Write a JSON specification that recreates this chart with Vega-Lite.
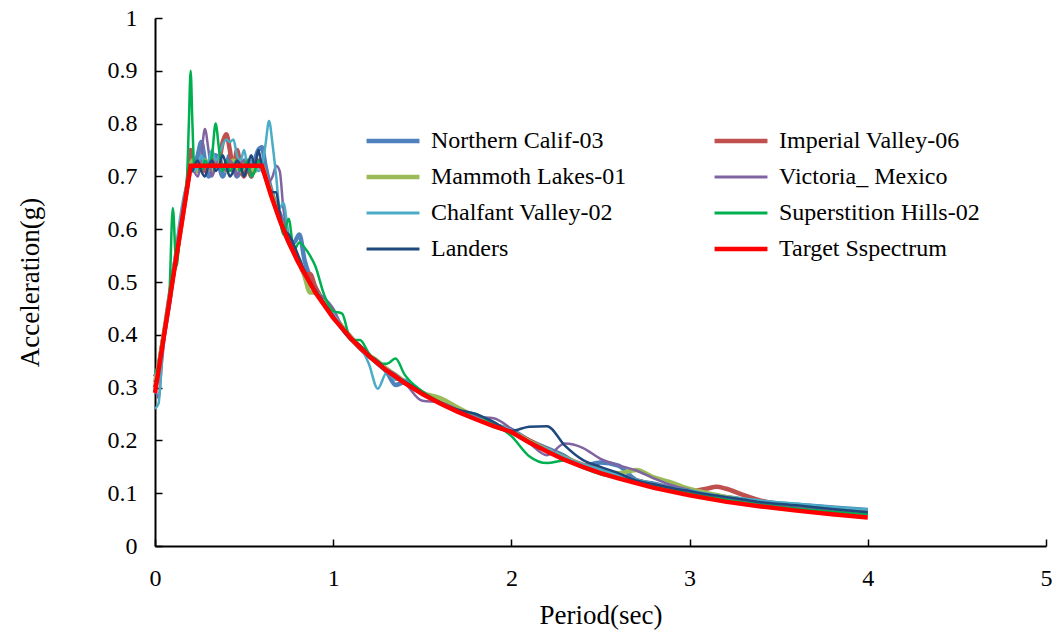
{
"$schema": "https://vega.github.io/schema/vega-lite/v6.json",
"width": 891, "height": 528,
"autosize": {"type": "none"},
"padding": {"left": 155, "top": 18, "right": 15, "bottom": 90},
"background": "white",
"config": {"view": {"stroke": null}, "font": "Liberation Serif"},
"layer": [
{
"data": {"values": [
{"t":0,"N":0.32,"I":0.30,"M":0.31,"V":0.30,"C":0.26,"S":0.33,"L":0.31},
{"t":0.02,"N":0.34,"I":0.335,"M":0.34,"V":0.28,"C":0.27,"S":0.34,"L":0.33},
{"t":0.04,"N":0.38,"I":0.38,"M":0.38,"V":0.35,"C":0.36,"S":0.38,"L":0.375},
{"t":0.06,"N":0.42,"I":0.42,"M":0.425,"V":0.415,"C":0.43,"S":0.42,"L":0.42},
{"t":0.08,"N":0.46,"I":0.465,"M":0.47,"V":0.46,"C":0.48,"S":0.47,"L":0.465},
{"t":0.1,"N":0.51,"I":0.51,"M":0.51,"V":0.50,"C":0.52,"S":0.64,"L":0.51},
{"t":0.12,"N":0.55,"I":0.55,"M":0.555,"V":0.545,"C":0.57,"S":0.53,"L":0.55},
{"t":0.14,"N":0.60,"I":0.59,"M":0.595,"V":0.59,"C":0.62,"S":0.59,"L":0.595},
{"t":0.16,"N":0.64,"I":0.635,"M":0.64,"V":0.635,"C":0.66,"S":0.64,"L":0.64},
{"t":0.18,"N":0.68,"I":0.68,"M":0.68,"V":0.68,"C":0.69,"S":0.70,"L":0.68},
{"t":0.19,"N":0.70,"I":0.71,"M":0.70,"V":0.70,"C":0.71,"S":0.80,"L":0.70},
{"t":0.2,"N":0.72,"I":0.75,"M":0.72,"V":0.72,"C":0.72,"S":0.90,"L":0.72},
{"t":0.21,"N":0.73,"I":0.73,"M":0.73,"V":0.72,"C":0.72,"S":0.80,"L":0.71},
{"t":0.22,"N":0.72,"I":0.71,"M":0.72,"V":0.71,"C":0.71,"S":0.72,"L":0.72},
{"t":0.24,"N":0.74,"I":0.72,"M":0.71,"V":0.70,"C":0.72,"S":0.72,"L":0.73},
{"t":0.26,"N":0.765,"I":0.73,"M":0.72,"V":0.74,"C":0.74,"S":0.71,"L":0.71},
{"t":0.28,"N":0.73,"I":0.71,"M":0.73,"V":0.79,"C":0.72,"S":0.73,"L":0.70},
{"t":0.3,"N":0.70,"I":0.72,"M":0.72,"V":0.75,"C":0.73,"S":0.72,"L":0.72},
{"t":0.32,"N":0.71,"I":0.74,"M":0.71,"V":0.70,"C":0.75,"S":0.74,"L":0.73},
{"t":0.34,"N":0.74,"I":0.72,"M":0.72,"V":0.72,"C":0.73,"S":0.80,"L":0.71},
{"t":0.36,"N":0.72,"I":0.73,"M":0.73,"V":0.74,"C":0.74,"S":0.75,"L":0.72},
{"t":0.38,"N":0.70,"I":0.765,"M":0.72,"V":0.72,"C":0.76,"S":0.71,"L":0.74},
{"t":0.4,"N":0.72,"I":0.78,"M":0.71,"V":0.71,"C":0.77,"S":0.73,"L":0.72},
{"t":0.42,"N":0.74,"I":0.75,"M":0.72,"V":0.73,"C":0.765,"S":0.71,"L":0.70},
{"t":0.44,"N":0.72,"I":0.71,"M":0.73,"V":0.72,"C":0.77,"S":0.72,"L":0.71},
{"t":0.46,"N":0.70,"I":0.75,"M":0.72,"V":0.70,"C":0.74,"S":0.73,"L":0.73},
{"t":0.48,"N":0.71,"I":0.72,"M":0.71,"V":0.72,"C":0.73,"S":0.71,"L":0.72},
{"t":0.5,"N":0.73,"I":0.70,"M":0.72,"V":0.73,"C":0.75,"S":0.72,"L":0.70},
{"t":0.52,"N":0.72,"I":0.72,"M":0.73,"V":0.71,"C":0.72,"S":0.73,"L":0.72},
{"t":0.54,"N":0.70,"I":0.70,"M":0.72,"V":0.72,"C":0.73,"S":0.70,"L":0.74},
{"t":0.56,"N":0.73,"I":0.72,"M":0.71,"V":0.73,"C":0.72,"S":0.71,"L":0.72},
{"t":0.58,"N":0.75,"I":0.73,"M":0.72,"V":0.72,"C":0.71,"S":0.73,"L":0.75},
{"t":0.6,"N":0.755,"I":0.72,"M":0.72,"V":0.71,"C":0.72,"S":0.72,"L":0.72},
{"t":0.62,"N":0.72,"I":0.70,"M":0.70,"V":0.70,"C":0.76,"S":0.70,"L":0.70},
{"t":0.64,"N":0.69,"I":0.68,"M":0.68,"V":0.69,"C":0.805,"S":0.68,"L":0.68},
{"t":0.66,"N":0.665,"I":0.66,"M":0.66,"V":0.70,"C":0.76,"S":0.66,"L":0.67},
{"t":0.68,"N":0.645,"I":0.64,"M":0.64,"V":0.72,"C":0.70,"S":0.64,"L":0.67},
{"t":0.7,"N":0.63,"I":0.62,"M":0.62,"V":0.71,"C":0.64,"S":0.62,"L":0.63},
{"t":0.72,"N":0.61,"I":0.60,"M":0.60,"V":0.64,"C":0.65,"S":0.59,"L":0.60},
{"t":0.75,"N":0.58,"I":0.575,"M":0.58,"V":0.585,"C":0.59,"S":0.62,"L":0.59},
{"t":0.78,"N":0.575,"I":0.555,"M":0.555,"V":0.56,"C":0.56,"S":0.56,"L":0.57},
{"t":0.81,"N":0.59,"I":0.535,"M":0.54,"V":0.54,"C":0.54,"S":0.575,"L":0.545},
{"t":0.84,"N":0.54,"I":0.515,"M":0.51,"V":0.52,"C":0.515,"S":0.565,"L":0.52},
{"t":0.87,"N":0.51,"I":0.515,"M":0.48,"V":0.50,"C":0.50,"S":0.55,"L":0.50},
{"t":0.9,"N":0.49,"I":0.49,"M":0.48,"V":0.48,"C":0.485,"S":0.53,"L":0.485},
{"t":0.95,"N":0.46,"I":0.46,"M":0.46,"V":0.47,"C":0.46,"S":0.475,"L":0.46},
{"t":1.0,"N":0.435,"I":0.435,"M":0.44,"V":0.45,"C":0.44,"S":0.445,"L":0.435},
{"t":1.05,"N":0.415,"I":0.412,"M":0.415,"V":0.415,"C":0.415,"S":0.44,"L":0.41},
{"t":1.1,"N":0.395,"I":0.392,"M":0.395,"V":0.395,"C":0.395,"S":0.39,"L":0.39},
{"t":1.15,"N":0.375,"I":0.375,"M":0.378,"V":0.38,"C":0.378,"S":0.39,"L":0.38},
{"t":1.2,"N":0.36,"I":0.36,"M":0.362,"V":0.362,"C":0.345,"S":0.365,"L":0.362},
{"t":1.25,"N":0.345,"I":0.348,"M":0.35,"V":0.345,"C":0.298,"S":0.345,"L":0.35},
{"t":1.3,"N":0.33,"I":0.335,"M":0.335,"V":0.335,"C":0.328,"S":0.345,"L":0.333},
{"t":1.35,"N":0.305,"I":0.322,"M":0.324,"V":0.325,"C":0.315,"S":0.355,"L":0.32},
{"t":1.4,"N":0.31,"I":0.31,"M":0.312,"V":0.31,"C":0.315,"S":0.325,"L":0.312},
{"t":1.5,"N":0.29,"I":0.29,"M":0.29,"V":0.275,"C":0.29,"S":0.293,"L":0.29},
{"t":1.6,"N":0.275,"I":0.272,"M":0.28,"V":0.272,"C":0.272,"S":0.272,"L":0.272},
{"t":1.7,"N":0.258,"I":0.256,"M":0.262,"V":0.258,"C":0.257,"S":0.256,"L":0.258},
{"t":1.8,"N":0.243,"I":0.242,"M":0.245,"V":0.245,"C":0.243,"S":0.25,"L":0.25},
{"t":1.9,"N":0.23,"I":0.228,"M":0.23,"V":0.242,"C":0.23,"S":0.232,"L":0.235},
{"t":2.0,"N":0.22,"I":0.216,"M":0.218,"V":0.222,"C":0.219,"S":0.208,"L":0.218},
{"t":2.1,"N":0.20,"I":0.20,"M":0.198,"V":0.195,"C":0.198,"S":0.17,"L":0.226},
{"t":2.2,"N":0.185,"I":0.182,"M":0.182,"V":0.172,"C":0.183,"S":0.157,"L":0.227},
{"t":2.3,"N":0.17,"I":0.167,"M":0.167,"V":0.194,"C":0.168,"S":0.162,"L":0.19},
{"t":2.4,"N":0.152,"I":0.154,"M":0.153,"V":0.186,"C":0.155,"S":0.148,"L":0.163},
{"t":2.5,"N":0.158,"I":0.143,"M":0.142,"V":0.165,"C":0.145,"S":0.136,"L":0.15},
{"t":2.6,"N":0.152,"I":0.133,"M":0.138,"V":0.153,"C":0.135,"S":0.128,"L":0.138},
{"t":2.7,"N":0.125,"I":0.124,"M":0.144,"V":0.143,"C":0.126,"S":0.12,"L":0.124},
{"t":2.8,"N":0.118,"I":0.116,"M":0.13,"V":0.128,"C":0.118,"S":0.113,"L":0.117},
{"t":2.9,"N":0.11,"I":0.108,"M":0.12,"V":0.115,"C":0.11,"S":0.106,"L":0.11},
{"t":3.0,"N":0.104,"I":0.104,"M":0.108,"V":0.106,"C":0.105,"S":0.10,"L":0.104},
{"t":3.1,"N":0.098,"I":0.109,"M":0.10,"V":0.098,"C":0.099,"S":0.094,"L":0.098},
{"t":3.15,"N":0.0955,"I":0.112,"M":0.0965,"V":0.095,"C":0.096,"S":0.091,"L":0.0955},
{"t":3.2,"N":0.093,"I":0.109,"M":0.093,"V":0.092,"C":0.093,"S":0.088,"L":0.093},
{"t":3.3,"N":0.088,"I":0.097,"M":0.087,"V":0.086,"C":0.09,"S":0.083,"L":0.088},
{"t":3.4,"N":0.084,"I":0.086,"M":0.082,"V":0.081,"C":0.086,"S":0.079,"L":0.083},
{"t":3.6,"N":0.078,"I":0.075,"M":0.074,"V":0.074,"C":0.08,"S":0.071,"L":0.077},
{"t":3.8,"N":0.073,"I":0.068,"M":0.067,"V":0.068,"C":0.074,"S":0.065,"L":0.07},
{"t":4.0,"N":0.068,"I":0.063,"M":0.062,"V":0.064,"C":0.069,"S":0.06,"L":0.064}
]},
"transform": [{"fold": ["N","I","M","V","C","S","L"], "as": ["series","a"]}],
"mark": {"type": "line", "interpolate": "monotone"},
"encoding": {
"x": {"field": "t", "type": "quantitative", "scale": {"domain": [0, 5], "nice": false},
 "axis": {"values": [0,1,2,3,4,5], "format": "~g", "labelFlush": false, "title": "Period(sec)", "grid": false, "tickSize": -7, "tickWidth": 1.5, "tickColor": "black",
  "domainColor": "black", "domainWidth": 2, "labelPadding": 27, "labelFontSize": 24, "labelColor": "black", "labelFont": "Liberation Serif",
  "titleFontSize": 27, "titleFontWeight": "normal", "titleColor": "black", "titleFont": "Liberation Serif", "titleY": 69, "titleBaseline": "middle"}},
"y": {"field": "a", "type": "quantitative", "scale": {"domain": [0, 1], "nice": false},
 "axis": {"values": [0,0.1,0.2,0.3,0.4,0.5,0.6,0.7,0.8,0.9,1], "format": "~g", "labelFlush": false, "title": "Acceleration(g)", "grid": false, "tickSize": -7, "tickWidth": 1.5, "tickColor": "black",
  "domainColor": "black", "domainWidth": 2, "labelPadding": 25, "labelFontSize": 24, "labelColor": "black", "labelFont": "Liberation Serif",
  "titleFontSize": 27, "titleFontWeight": "normal", "titleColor": "black", "titleFont": "Liberation Serif",
  "titleX": -125, "titleY": 264, "titleAngle": -90, "titleAlign": "center", "titleBaseline": "middle"}},
"color": {"field": "series", "type": "nominal",
 "scale": {"domain": ["N","M","C","L","I","V","S","T"], "range": ["#4F81BD","#9BBB59","#4BACC6","#1F497D","#C0504D","#8064A2","#00B050","#FF0000"]},
 "legend": {"orient": "none", "legendX": 226, "legendY": 111, "columns": 2, "symbolType": "stroke", "symbolSize": 2800, "symbolStrokeWidth": 3,
  "labelFontSize": 24, "labelFont": "Liberation Serif", "labelColor": "black", "labelOffset": 26, "columnPadding": 78, "rowPadding": 12,
  "title": null, "padding": 0, "labelLimit": 400,
  "labelExpr": "datum.value=='N'?'Northern Calif-03':datum.value=='I'?'Imperial Valley-06':datum.value=='M'?'Mammoth Lakes-01':datum.value=='V'?'Victoria_ Mexico':datum.value=='C'?'Chalfant Valley-02':datum.value=='S'?'\u00a0Superstition Hills-02':datum.value=='L'?'Landers':'Target Sspectrum'",
  "encode": {"symbols": {"update": {"strokeWidth": {"signal": "indexof(['N','I','M','T'], datum.value) >= 0 ? 4.5 : 3"}}}}}},
"strokeWidth": {"condition": {"test": "indexof(['N','I','M'], datum.series) >= 0", "value": 4.5}, "value": 2.5}
}
},
{
"data": {"values": [
{"t":0,"a":0.29,"series":"T"},{"t":0.2,"a":0.72,"series":"T"},{"t":0.6,"a":0.72,"series":"T"},
{"t":0.65,"a":0.665,"series":"T"},{"t":0.7,"a":0.617,"series":"T"},{"t":0.75,"a":0.576,"series":"T"},
{"t":0.8,"a":0.54,"series":"T"},{"t":0.9,"a":0.48,"series":"T"},{"t":1.0,"a":0.432,"series":"T"},
{"t":1.1,"a":0.393,"series":"T"},{"t":1.2,"a":0.36,"series":"T"},{"t":1.3,"a":0.332,"series":"T"},
{"t":1.4,"a":0.309,"series":"T"},{"t":1.5,"a":0.288,"series":"T"},{"t":1.6,"a":0.27,"series":"T"},
{"t":1.7,"a":0.254,"series":"T"},{"t":1.8,"a":0.24,"series":"T"},{"t":1.9,"a":0.227,"series":"T"},
{"t":2.0,"a":0.216,"series":"T"},{"t":2.1,"a":0.196,"series":"T"},{"t":2.2,"a":0.179,"series":"T"},
{"t":2.3,"a":0.163,"series":"T"},{"t":2.4,"a":0.15,"series":"T"},{"t":2.5,"a":0.138,"series":"T"},
{"t":2.6,"a":0.128,"series":"T"},{"t":2.7,"a":0.119,"series":"T"},{"t":2.8,"a":0.11,"series":"T"},
{"t":2.9,"a":0.103,"series":"T"},{"t":3.0,"a":0.096,"series":"T"},{"t":3.2,"a":0.084,"series":"T"},
{"t":3.4,"a":0.075,"series":"T"},{"t":3.6,"a":0.067,"series":"T"},{"t":3.8,"a":0.06,"series":"T"},
{"t":4.0,"a":0.054,"series":"T"}
]},
"mark": {"type": "line", "strokeWidth": 4.5},
"encoding": {
"x": {"field": "t", "type": "quantitative"},
"y": {"field": "a", "type": "quantitative"},
"color": {"field": "series", "type": "nominal"}
}
}
]
}
